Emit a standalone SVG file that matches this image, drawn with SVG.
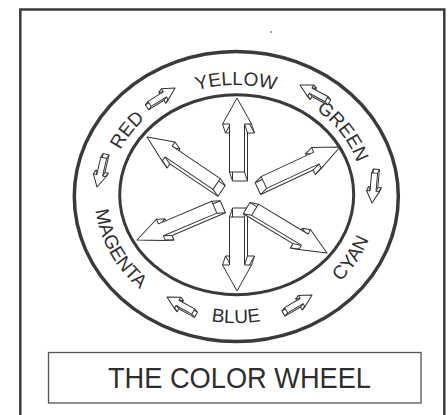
<svg xmlns="http://www.w3.org/2000/svg" xmlns:xlink="http://www.w3.org/1999/xlink" width="448" height="415" viewBox="0 0 448 415">
<style>
.frame{fill:none;stroke:#3a3a3a;stroke-width:2.5}
.ring{fill:none;stroke:#3a3a3a}
.ar{fill:#fff;stroke:#333;stroke-width:1;stroke-linejoin:round}
.cn{fill:none;stroke:#333;stroke-width:1}
.lbl{font-family:"Liberation Sans",Arial,sans-serif;font-size:19px;fill:#2e2e2e}
.title{font-family:"Liberation Sans",Arial,sans-serif;font-size:30px;fill:#2e2e2e}
</style>
<defs>
<path id="bv" d="M-74-7.5H-26V-14.5L0 0-26 14.5V7.5H-74Z"/>
<path id="bd" d="M-84-6.5H-26V-11.5L0 0-26 11.5V6.5H-84Z"/>
<path id="sa" d="M-30-3H-12V-6.5L0 0-12 6.5V3H-30Z"/>
<path id="pRed" d="M115.7 229A126.5 110 0 0 1 218.4 86.1"/>
<path id="pYellow" d="M139.1 124.3A126.5 110 0 0 1 332.9 124.3"/>
<path id="pGreen" d="M253.6 86.1A126.5 110 0 0 1 356.3 229"/>
<path id="pMagenta" d="M106.7 142.9A141.5 128 0 0 0 201.8 319.2"/>
<path id="pBlue" d="M127.6 277.3A141.5 128 0 0 0 344.4 277.3"/>
<path id="pCyan" d="M260.6 321.1A141.5 128 0 0 0 369 151.2"/>
</defs>
<rect width="448" height="415" fill="#fff"/>
<rect class="frame" x="20.3" y="9.5" width="424" height="420"/>
<circle cx="271" cy="32" r="0.9" fill="#777"/>
<g id="wheel">
<ellipse class="ring" cx="236.3" cy="196.5" rx="162" ry="145" stroke-width="3.5"/>
<ellipse class="ring" cx="236.7" cy="194.7" rx="117" ry="100" stroke-width="3"/>
</g>
<g id="labels">
<g id="label-red"><text class="lbl"><textPath href="#pRed" xlink:href="#pRed" startOffset="50%" text-anchor="middle">RED</textPath></text></g>
<g id="label-yellow"><text class="lbl"><textPath href="#pYellow" xlink:href="#pYellow" startOffset="50%" text-anchor="middle">YELLOW</textPath></text></g>
<g id="label-green"><text class="lbl"><textPath href="#pGreen" xlink:href="#pGreen" startOffset="50%" text-anchor="middle">GREEN</textPath></text></g>
<g id="label-magenta"><text class="lbl"><textPath href="#pMagenta" xlink:href="#pMagenta" startOffset="50%" text-anchor="middle">MAGENTA</textPath></text></g>
<g id="label-blue"><text class="lbl"><textPath href="#pBlue" xlink:href="#pBlue" startOffset="50%" text-anchor="middle">BLUE</textPath></text></g>
<g id="label-cyan"><text class="lbl"><textPath href="#pCyan" xlink:href="#pCyan" startOffset="50%" text-anchor="middle">CYAN</textPath></text></g>
</g>
<g id="connectors">
<g id="arrow-yellow" transform="translate(237 98) rotate(-90)">
<use href="#bv" xlink:href="#bv" class="ar" transform="translate(-9 3)"/>
<path class="cn" d="M-74-7.5l-9 3M-26-7.5l-9 3M-26-14.5l-9 3M-26 14.5l-9 3M-26 7.5l-9 3M-74 7.5l-9 3"/>
<use href="#bv" xlink:href="#bv" class="ar"/>
</g>
<g id="arrow-blue" transform="translate(237 291) rotate(90)">
<use href="#bv" xlink:href="#bv" class="ar" transform="translate(-9 -3)"/>
<path class="cn" d="M-74-7.5l-9-3M-26-7.5l-9-3M-26-14.5l-9-3M-26 14.5l-9-3M-26 7.5l-9-3M-74 7.5l-9-3"/>
<use href="#bv" xlink:href="#bv" class="ar"/>
</g>
<g id="arrow-red" transform="translate(147 137) rotate(-146)">
<use href="#bd" xlink:href="#bd" class="ar" transform="translate(-8 -3)"/>
<path class="cn" d="M-84-6.5l-8-3M-26-6.5l-8-3M-26-11.5l-8-3M-26 11.5l-8-3M-26 6.5l-8-3M-84 6.5l-8-3"/>
<use href="#bd" xlink:href="#bd" class="ar"/>
</g>
<g id="arrow-green" transform="translate(340 147) rotate(-25)">
<use href="#bd" xlink:href="#bd" class="ar" transform="translate(-8 3)"/>
<path class="cn" d="M-84-6.5l-8 3M-26-6.5l-8 3M-26-11.5l-8 3M-26 11.5l-8 3M-26 6.5l-8 3M-84 6.5l-8 3"/>
<use href="#bd" xlink:href="#bd" class="ar"/>
</g>
<g id="arrow-cyan" transform="translate(327 253) rotate(31)">
<use href="#bd" xlink:href="#bd" class="ar" transform="translate(-8 3)"/>
<path class="cn" d="M-84-6.5l-8 3M-26-6.5l-8 3M-26-11.5l-8 3M-26 11.5l-8 3M-26 6.5l-8 3M-84 6.5l-8 3"/>
<use href="#bd" xlink:href="#bd" class="ar"/>
</g>
<g id="arrow-magenta" transform="translate(137 240) rotate(157)">
<use href="#bd" xlink:href="#bd" class="ar" transform="translate(-8 -3)"/>
<path class="cn" d="M-84-6.5l-8-3M-26-6.5l-8-3M-26-11.5l-8-3M-26 11.5l-8-3M-26 6.5l-8-3M-84 6.5l-8-3"/>
<use href="#bd" xlink:href="#bd" class="ar"/>
</g>
<g id="small-red-yellow" transform="translate(175 88) rotate(-32)">
<use href="#sa" xlink:href="#sa" class="ar" transform="translate(-4 1.5)"/>
<path class="cn" d="M-30-3l-4 1.5M-12-3l-4 1.5M-12-6.5l-4 1.5M-12 6.5l-4 1.5M-12 3l-4 1.5M-30 3l-4 1.5"/>
<use href="#sa" xlink:href="#sa" class="ar"/>
</g>
<g id="small-green-yellow" transform="translate(300 85) rotate(-152)">
<use href="#sa" xlink:href="#sa" class="ar" transform="translate(-4 -1.5)"/>
<path class="cn" d="M-30-3l-4-1.5M-12-3l-4-1.5M-12-6.5l-4-1.5M-12 6.5l-4-1.5M-12 3l-4-1.5M-30 3l-4-1.5"/>
<use href="#sa" xlink:href="#sa" class="ar"/>
</g>
<g id="small-green-cyan" transform="translate(372 203) rotate(95)">
<use href="#sa" xlink:href="#sa" class="ar" transform="translate(-4 -1.5)"/>
<path class="cn" d="M-30-3l-4-1.5M-12-3l-4-1.5M-12-6.5l-4-1.5M-12 6.5l-4-1.5M-12 3l-4-1.5M-30 3l-4-1.5"/>
<use href="#sa" xlink:href="#sa" class="ar"/>
</g>
<g id="small-red-magenta" transform="translate(97 187) rotate(103)">
<use href="#sa" xlink:href="#sa" class="ar" transform="translate(-4 -1.5)"/>
<path class="cn" d="M-30-3l-4-1.5M-12-3l-4-1.5M-12-6.5l-4-1.5M-12 6.5l-4-1.5M-12 3l-4-1.5M-30 3l-4-1.5"/>
<use href="#sa" xlink:href="#sa" class="ar"/>
</g>
<g id="small-blue-magenta" transform="translate(167 297) rotate(-151)">
<use href="#sa" xlink:href="#sa" class="ar" transform="translate(-4 -1.5)"/>
<path class="cn" d="M-30-3l-4-1.5M-12-3l-4-1.5M-12-6.5l-4-1.5M-12 6.5l-4-1.5M-12 3l-4-1.5M-30 3l-4-1.5"/>
<use href="#sa" xlink:href="#sa" class="ar"/>
</g>
<g id="small-blue-cyan" transform="translate(312 295) rotate(-30.5)">
<use href="#sa" xlink:href="#sa" class="ar" transform="translate(-4 1.5)"/>
<path class="cn" d="M-30-3l-4 1.5M-12-3l-4 1.5M-12-6.5l-4 1.5M-12 6.5l-4 1.5M-12 3l-4 1.5M-30 3l-4 1.5"/>
<use href="#sa" xlink:href="#sa" class="ar"/>
</g>
</g>
<g id="title">
<rect x="48.5" y="352.5" width="372.5" height="50.5" fill="none" stroke="#555" stroke-width="1.3"/>
<text class="title" x="239.5" y="388" text-anchor="middle" textLength="263" lengthAdjust="spacingAndGlyphs">THE COLOR WHEEL</text>
</g>
</svg>
